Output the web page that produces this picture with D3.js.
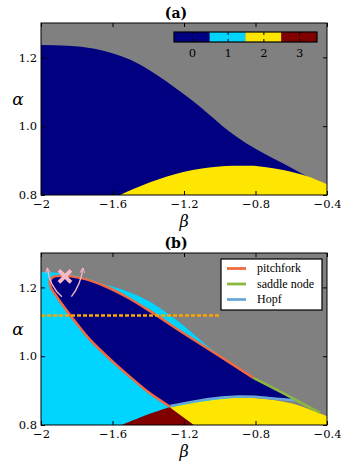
<!DOCTYPE html>
<html>
<head>
<meta charset="utf-8">
<script src="https://cdn.jsdelivr.net/npm/d3@7"></script>
<style>
  body { margin: 0; background: #fff; }
</style>
</head>
<body>
<svg id="chart" width="341" height="463"></svg>
<script>
// values, points are [beta, alpha]
const xTicks = [-2, -1.6, -1.2, -0.8, -0.4];
const xTickLabels = ["−2", "−1.6", "−1.2", "−0.8", "−0.4"];
const yTicks = [0.8, 1.0, 1.2];
const yTickLabels = ["0.8", "1.0", "1.2"];
const levels = [0, 1, 2, 3];
const levelColors = ["#000080", "#00d4ff", "#ffe600", "#800000"];

// panel (a)
const aNavyTop = [[-2, 1.236], [-1.85, 1.234], [-1.7, 1.225], [-1.55, 1.203], [-1.45, 1.18],
  [-1.35, 1.148], [-1.25, 1.112], [-1.15, 1.073], [-1.05, 1.03], [-0.95, 0.986], [-0.85, 0.95],
  [-0.75, 0.92], [-0.65, 0.893], [-0.55, 0.865], [-0.4, 0.824]];
const aYellowTop = [[-1.558, 0.8], [-1.48, 0.818], [-1.39, 0.837], [-1.3, 0.853], [-1.204, 0.867],
  [-1.1, 0.877], [-1.017, 0.882], [-0.92, 0.885], [-0.831, 0.885], [-0.74, 0.881],
  [-0.645, 0.873], [-0.514, 0.855], [-0.4, 0.831]];

// panel (b)
const bCyanTop = [[-2, 1.245], [-1.9, 1.242], [-1.8, 1.234], [-1.67, 1.213], [-1.53, 1.191],
  [-1.39, 1.158], [-1.2, 1.088], [-1.055, 1.024], [-0.96, 0.99], [-0.88, 0.962]];
const bRedTop = [[-1.549, 0.8], [-1.409, 0.829], [-1.278, 0.852]];
const bYellowFoot = [-1.144, 0.8];
const bYellowTop = [[-1.278, 0.851], [-1.15, 0.864], [-1.0, 0.875], [-0.9, 0.879], [-0.8, 0.878],
  [-0.7, 0.873], [-0.6, 0.863], [-0.5, 0.846], [-0.4, 0.826]];
const pitchfork = [[-1.278, 0.853], [-1.4, 0.896], [-1.484, 0.932], [-1.6, 0.985], [-1.726, 1.048],
  [-1.83, 1.115], [-1.912, 1.173], [-1.945, 1.2], [-1.952, 1.216], [-1.935, 1.23], [-1.877, 1.234],
  [-1.775, 1.227], [-1.644, 1.204], [-1.513, 1.17], [-1.381, 1.128], [-1.2, 1.066],
  [-1.0, 1.0], [-0.812, 0.937]];
const saddleNode = [[-0.812, 0.937], [-0.625, 0.887], [-0.439, 0.835]];
const hopf = [[-1.278, 0.855], [-1.15, 0.868], [-1.0, 0.879], [-0.9, 0.883], [-0.8, 0.882],
  [-0.7, 0.877], [-0.58, 0.872]];
const dashAlpha = 1.118;
const dashBeta = [-2, -1.0];
const crossPoint = [-1.866, 1.232];
const arrows = [
  [[-1.883, 1.173], [-1.951, 1.202], [-1.965, 1.256]],
  [[-1.83, 1.173], [-1.778, 1.207], [-1.765, 1.256]]
];
const legendNames = ["pitchfork", "saddle node", "Hopf"];
const legendColors = ["#ef6a43", "#8db83e", "#6aa7d8"];

const svg = d3.select("#chart");
const x = d3.scaleLinear().domain([-2, -0.4]).range([41, 327]);

svg.append("defs").append("marker")
    .attr("id", "head")
    .attr("viewBox", "0 0 10 10")
    .attr("refX", 9).attr("refY", 5)
    .attr("markerWidth", 6).attr("markerHeight", 6)
    .attr("markerUnits", "userSpaceOnUse")
    .attr("orient", "auto")
  .append("path")
    .attr("d", "M1,1L9,5L1,9")
    .attr("fill", "none")
    .attr("stroke", "#f4b3c3")
    .attr("stroke-width", 1.6);

function pathFrom(y, pieces, closed) {
    const line = d3.line().x(d => x(d[0])).y(d => y(d[1])).curve(d3.curveCatmullRom);
    let s = pieces.map((pts, i) => {
        if (pts.length === 1) return `${i ? "L" : "M"}${x(pts[0][0])},${y(pts[0][1])}`;
        const str = line(pts);
        return i ? str.replace(/^M/, "L") : str;
    }).join("");
    return closed ? s + "Z" : s;
}

function makePanel(top, bottom, id) {
    const y = d3.scaleLinear().domain([0.8, 1.3]).range([bottom, top]);
    const g = svg.append("g");
    g.append("clipPath").attr("id", id)
      .append("rect")
        .attr("x", x(-2)).attr("y", top)
        .attr("width", x(-0.4) - x(-2)).attr("height", bottom - top);
    const plot = g.append("g").attr("clip-path", `url(#${id})`);
    plot.append("rect")
        .attr("x", x(-2)).attr("y", top)
        .attr("width", x(-0.4) - x(-2)).attr("height", bottom - top)
        .attr("fill", "#808080");
    return { y, g, plot, top, bottom };
}

function styleTicks(sel) {
    sel.selectAll(".domain").remove();
    sel.selectAll(".tick line").attr("stroke", "#000");
    sel.selectAll(".tick text")
        .style("font-family", "'DejaVu Serif', serif")
        .style("font-size", "11.5px")
        .attr("fill", "#000");
}

function finishPanel(p, title) {
    const { y, g, top, bottom } = p;
    const ax = g.append("g").attr("class", "axes");

    ax.append("g").attr("transform", `translate(0,${bottom})`)
        .call(d3.axisBottom(x).tickValues(xTicks).tickFormat((d, i) => xTickLabels[i])
            .tickSize(-4).tickPadding(5));
    ax.append("g").attr("transform", `translate(0,${top})`)
        .call(d3.axisTop(x).tickValues(xTicks).tickFormat("").tickSize(-4));
    ax.append("g").attr("transform", `translate(${x(-2)},0)`)
        .call(d3.axisLeft(y).tickValues(yTicks).tickFormat((d, i) => yTickLabels[i])
            .tickSize(-4).tickPadding(4));
    ax.append("g").attr("transform", `translate(${x(-0.4)},0)`)
        .call(d3.axisRight(y).tickValues(yTicks).tickFormat("").tickSize(-4));
    styleTicks(ax);

    g.append("rect")
        .attr("x", x(-2)).attr("y", top)
        .attr("width", x(-0.4) - x(-2)).attr("height", bottom - top)
        .attr("fill", "none").attr("stroke", "#000").attr("stroke-width", 1);

    g.append("text")
        .attr("x", 176).attr("y", top - 5)
        .attr("text-anchor", "middle")
        .style("font-family", "'DejaVu Serif', serif")
        .style("font-weight", "bold").style("font-size", "14px")
        .text(title);
    g.append("text")
        .attr("x", (x(-2) + x(-0.4)) / 2).attr("y", bottom + 32)
        .attr("text-anchor", "middle")
        .style("font-family", "'DejaVu Serif', serif")
        .style("font-style", "italic").style("font-size", "16px")
        .text("β");
    g.append("text")
        .attr("x", 18).attr("y", top + 82)
        .attr("text-anchor", "middle")
        .style("font-family", "'DejaVu Serif', serif")
        .style("font-style", "italic").style("font-size", "17px")
        .text("α");
}

// ---------- panel (a) ----------
const pa = makePanel(23, 195, "clipA");
const areaA = d3.area().x(d => x(d[0])).y0(pa.y(0.8)).y1(d => pa.y(d[1])).curve(d3.curveMonotoneX);
pa.plot.append("path").attr("d", areaA(aNavyTop)).attr("fill", levelColors[0]);
pa.plot.append("path").attr("d", areaA(aYellowTop)).attr("fill", levelColors[2]);
finishPanel(pa, "(a)");

// colorbar
const cx = d3.scaleLinear().domain([-0.5, 3.5]).range([174, 317]);
const cbar = svg.append("g");
cbar.selectAll("rect.cell")
    .data(levels)
    .join("rect")
    .attr("class", "cell")
    .attr("x", d => cx(d - 0.5)).attr("y", 32)
    .attr("width", d => cx(d + 0.5) - cx(d - 0.5)).attr("height", 10)
    .attr("fill", (d, i) => levelColors[i]);
cbar.append("g").attr("transform", "translate(0,42)")
    .call(d3.axisBottom(cx).tickValues(levels).tickFormat(d3.format("d")).tickSize(-3).tickPadding(7));
cbar.append("g").attr("transform", "translate(0,32)")
    .call(d3.axisTop(cx).tickValues(levels).tickFormat("").tickSize(-3));
styleTicks(cbar);
cbar.append("rect")
    .attr("x", cx(-0.5)).attr("y", 32)
    .attr("width", cx(3.5) - cx(-0.5)).attr("height", 10)
    .attr("fill", "none").attr("stroke", "#000").attr("stroke-width", 1.2);

// ---------- panel (b) ----------
const pb = makePanel(253, 425, "clipB");
const yb = pb.y;
const lastCyan = bCyanTop[bCyanTop.length - 1];

pb.plot.append("path")
    .attr("d", pathFrom(yb, [bCyanTop, [[lastCyan[0], 0.8]], [[-2, 0.8]]], true))
    .attr("fill", levelColors[1]);
pb.plot.append("path")
    .attr("d", pathFrom(yb, [bRedTop, [bYellowFoot]], true))
    .attr("fill", levelColors[3]);
pb.plot.append("path")
    .attr("d", pathFrom(yb, [[bYellowFoot], bYellowTop, [[-0.4, 0.8]]], true))
    .attr("fill", levelColors[2]);

const hopfEnd = hopf[hopf.length - 1];
pb.plot.append("path")
    .attr("d", pathFrom(yb, [pitchfork, saddleNode.slice(1).filter(d => d[0] < hopfEnd[0]),
        hopf.slice().reverse()], true))
    .attr("fill", levelColors[0]);

const lineB = d3.line().x(d => x(d[0])).y(d => yb(d[1])).curve(d3.curveCatmullRom);
pb.plot.append("path").attr("d", lineB(hopf))
    .attr("fill", "none").attr("stroke", legendColors[2]).attr("stroke-width", 2.5);
pb.plot.append("path").attr("d", lineB(pitchfork))
    .attr("fill", "none").attr("stroke", legendColors[0]).attr("stroke-width", 2.5);
pb.plot.append("path").attr("d", lineB(saddleNode))
    .attr("fill", "none").attr("stroke", legendColors[1]).attr("stroke-width", 2.5);

pb.plot.append("line")
    .attr("x1", x(dashBeta[0])).attr("x2", x(dashBeta[1]))
    .attr("y1", yb(dashAlpha)).attr("y2", yb(dashAlpha))
    .attr("stroke", "#ffa500").attr("stroke-width", 2.5)
    .attr("stroke-dasharray", "4,2");

pb.plot.selectAll("path.arrow")
    .data(arrows)
    .join("path")
    .attr("class", "arrow")
    .attr("d", d => {
        const p = d3.path();
        p.moveTo(x(d[0][0]), yb(d[0][1]));
        p.quadraticCurveTo(x(d[1][0]), yb(d[1][1]), x(d[2][0]), yb(d[2][1]));
        return p.toString();
    })
    .attr("fill", "none")
    .attr("stroke", "#f4b3c3")
    .attr("stroke-width", 1.4)
    .attr("marker-end", "url(#head)");

const cxp = x(crossPoint[0]), cyp = yb(crossPoint[1]);
pb.plot.append("path")
    .attr("d", `M${cxp - 6},${cyp - 6}L${cxp + 6},${cyp + 6}M${cxp - 6},${cyp + 6}L${cxp + 6},${cyp - 6}`)
    .attr("stroke", "#f9b9c6").attr("stroke-width", 3.8);

finishPanel(pb, "(b)");

// legend
const legend = svg.append("g").attr("transform", "translate(221,259)");
legend.append("rect")
    .attr("width", 101).attr("height", 51)
    .attr("fill", "#fff").attr("stroke", "#000").attr("stroke-width", 1.2);
const item = legend.selectAll("g.item")
    .data(legendNames)
    .join("g")
    .attr("class", "item")
    .attr("transform", (d, i) => `translate(0,${9.5 + i * 15.5})`);
item.append("line")
    .attr("x1", 6).attr("x2", 25)
    .attr("stroke", (d, i) => legendColors[i]).attr("stroke-width", 2.8);
item.append("text")
    .attr("x", 36).attr("y", 3.5)
    .style("font-family", "'Liberation Serif', serif").style("font-size", "12px")
    .text(d => d);
</script>
</body>
</html>
